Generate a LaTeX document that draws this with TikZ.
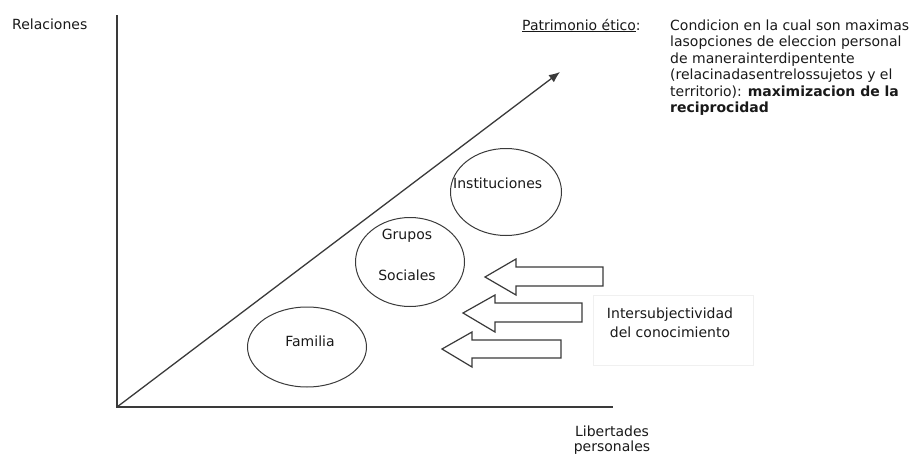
\documentclass[tikz,border=0pt]{standalone}
\usepackage{fontspec}
\setmainfont{DejaVu Sans}
\usetikzlibrary{arrows.meta,shapes.geometric}
\definecolor{linegray}{HTML}{3A3A3A}
\begin{document}
\begin{tikzpicture}[x=1pt,y=-1pt,
  txt/.style={inner sep=0pt,font=\fontsize{14}{16.5}\selectfont,text=black!90},
  axis/.style={draw=linegray,line width=1.4pt},
  oval/.style={ellipse,draw=linegray,line width=1pt,inner sep=0pt},
  blockarrow/.style={draw=linegray,line width=1.2pt,fill=white,line join=miter}]
\useasboundingbox (0,0) rectangle (916,455);
% axes
\coordinate (top) at (117,15);
\coordinate (origin) at (117,407);
\coordinate (right) at (613,407);
\coordinate (tip) at (560,72);
\draw[axis] (top) -- (origin) -- (right);
\draw[draw=linegray,line width=1.3pt,-{Latex[length=11pt,width=9pt]}] (origin) -- (tip);
% labels
\node[txt,anchor=base west] (rel) at (12,29) {Relaciones};
\node[txt,anchor=base] (lib1) at (612,436) {Libertades};
\node[txt,anchor=base] (lib2) at (612,451.5) {personales};
\node[txt,anchor=base west] (pat) at (522,30) {\underline{Patrimonio ético}:};
\node[txt,anchor=base west] (l1) at (670,30) {Condicion en la cual son maximas};
\node[txt,anchor=base west] (l2) at (670,46.5) {lasopciones de eleccion personal};
\node[txt,anchor=base west] (l3) at (670,63) {de manerainterdipentente};
\node[txt,anchor=base west] (l4) at (670,79.5) {(relacinadasentrelossujetos y el};
\node[txt,anchor=base west] (l5) at (670,96) {territorio): \textbf{maximizacion de la}};
\node[txt,anchor=base west] (l6) at (670,112.5) {\textbf{reciprocidad}};
% ellipses
\node[oval,minimum width=119pt,minimum height=80pt] (fam) at (307,347) {};
\node[oval,minimum width=109pt,minimum height=89pt] (gru) at (410,262) {};
\node[oval,minimum width=111pt,minimum height=87pt] (ins) at (506,192) {};
\node[txt,anchor=base] (famt) at (310,346) {Familia};
\node[txt,anchor=base] (grut1) at (407,239) {Grupos};
\node[txt,anchor=base] (grut2) at (407,280) {Sociales};
\node[txt,anchor=base west] (inst) at (453,188) {Instituciones};
% block arrows
\draw[blockarrow] (485,277) -- (516,259) -- (516,267) -- (603,267) -- (603,286) -- (516,286) -- (516,295) -- cycle;
\draw[blockarrow] (463,313) -- (495,295) -- (495,303) -- (582,303) -- (582,322) -- (495,322) -- (495,332) -- cycle;
\draw[blockarrow] (442,349) -- (472,332) -- (472,340) -- (561,340) -- (561,358) -- (472,358) -- (472,367) -- cycle;
% intersubjectividad box
\node[draw=black!6,line width=0.8pt,minimum width=160pt,minimum height=70pt,inner sep=0pt] (ibox) at (673,330) {};
\node[txt,anchor=base] (int1) at (670,318) {Intersubjectividad};
\node[txt,anchor=base] (int2) at (670,337) {del conocimiento};
\end{tikzpicture}
\end{document}
